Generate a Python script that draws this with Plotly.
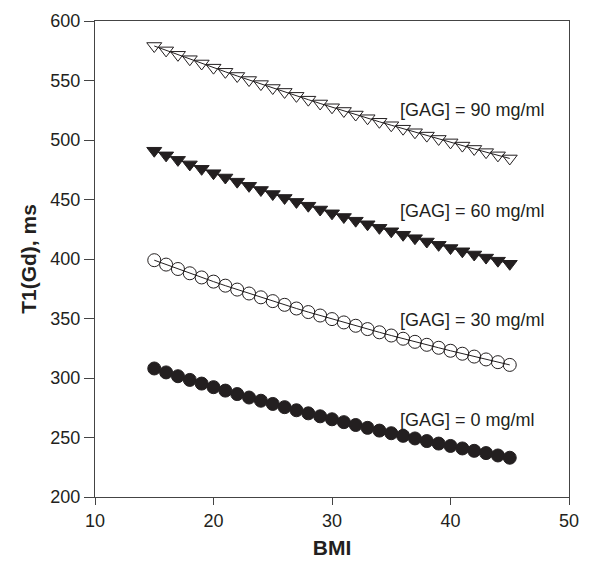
import plotly.graph_objects as go

# BMI grid shared by all four curves
bmi = list(range(15, 46))

# T1(Gd) in ms for each GAG concentration
t1_gag0 = [308.0, 304.7, 301.5, 298.4, 295.3, 292.3, 289.4, 286.5, 283.6, 280.9,
           278.2, 275.5, 272.9, 270.3, 267.8, 265.3, 262.9, 260.5, 258.1, 255.8,
           253.6, 251.4, 249.2, 247.0, 244.9, 242.9, 240.8, 238.8, 236.9, 234.9, 233.0]
t1_gag30 = [399.0, 395.3, 391.6, 388.0, 384.5, 381.0, 377.6, 374.3, 371.0, 367.8,
            364.6, 361.5, 358.4, 355.4, 352.5, 349.5, 346.7, 343.9, 341.1, 338.4,
            335.7, 333.0, 330.4, 327.9, 325.4, 322.9, 320.4, 318.0, 315.6, 313.3, 311.0]
t1_gag60 = [491.0, 487.1, 483.3, 479.5, 475.8, 472.1, 468.5, 465.0, 461.5, 458.0,
            454.6, 451.3, 448.0, 444.8, 441.6, 438.4, 435.3, 432.2, 429.2, 426.2,
            423.3, 420.4, 417.5, 414.7, 411.9, 409.2, 406.5, 403.8, 401.2, 398.6, 396.0]
t1_gag90 = [579.0, 575.3, 571.6, 567.9, 564.3, 560.8, 557.3, 553.8, 550.4, 547.0,
            543.7, 540.4, 537.1, 533.9, 530.7, 527.5, 524.4, 521.4, 518.3, 515.3,
            512.4, 509.5, 506.5, 503.7, 500.9, 498.0, 495.3, 492.5, 489.8, 487.1, 484.5]

labels = ["[GAG] = 0 mg/ml", "[GAG] = 30 mg/ml", "[GAG] = 60 mg/ml", "[GAG] = 90 mg/ml"]
label_y = [265, 349, 440, 525]
label_x = 35.6

x_ticks = [10, 20, 30, 40, 50]
y_ticks = [200, 250, 300, 350, 400, 450, 500, 550, 600]

ink = "#231f20"
axis_col = "#444444"
font = "Liberation Sans, Arial, sans-serif"

series = [
    (t1_gag0, "circle", 13),
    (t1_gag30, "circle-open", 13),
    (t1_gag60, "triangle-down", 13),
    (t1_gag90, "triangle-down-open", 13),
]

fig = go.Figure()
for values, symbol, size in series:
    fig.add_trace(go.Scatter(
        x=bmi, y=values, mode="lines+markers",
        line=dict(color=ink, width=1),
        marker=dict(symbol=symbol, size=size, color=ink,
                    line=dict(color=ink, width=1)),
        showlegend=False,
    ))

for text, y in zip(labels, label_y):
    fig.add_annotation(x=label_x, y=y, text=text, showarrow=False,
                       xanchor="left", yanchor="middle",
                       font=dict(family=font, size=18, color=ink))

axis_common = dict(
    showgrid=False, zeroline=False, showline=True, linecolor=axis_col,
    linewidth=1, mirror=True, ticks="outside", tickwidth=1,
    tickcolor=axis_col, tickfont=dict(family=font, size=18, color=ink),
)

fig.update_xaxes(range=[10, 50], tickvals=x_ticks, ticklen=7,
                 title=dict(text="<b>BMI</b>", font=dict(family=font, size=21, color=ink),
                            standoff=10),
                 **axis_common)
fig.update_yaxes(range=[200, 600], tickvals=y_ticks, ticklen=10,
                 title=dict(text="<b>T1(Gd), ms</b>", font=dict(family=font, size=21, color=ink),
                            standoff=8),
                 **axis_common)

fig.update_layout(
    width=590, height=566,
    margin=dict(l=95, r=11, t=21, b=60),
    paper_bgcolor="white", plot_bgcolor="white",
)

fig.write_html("out.html")
